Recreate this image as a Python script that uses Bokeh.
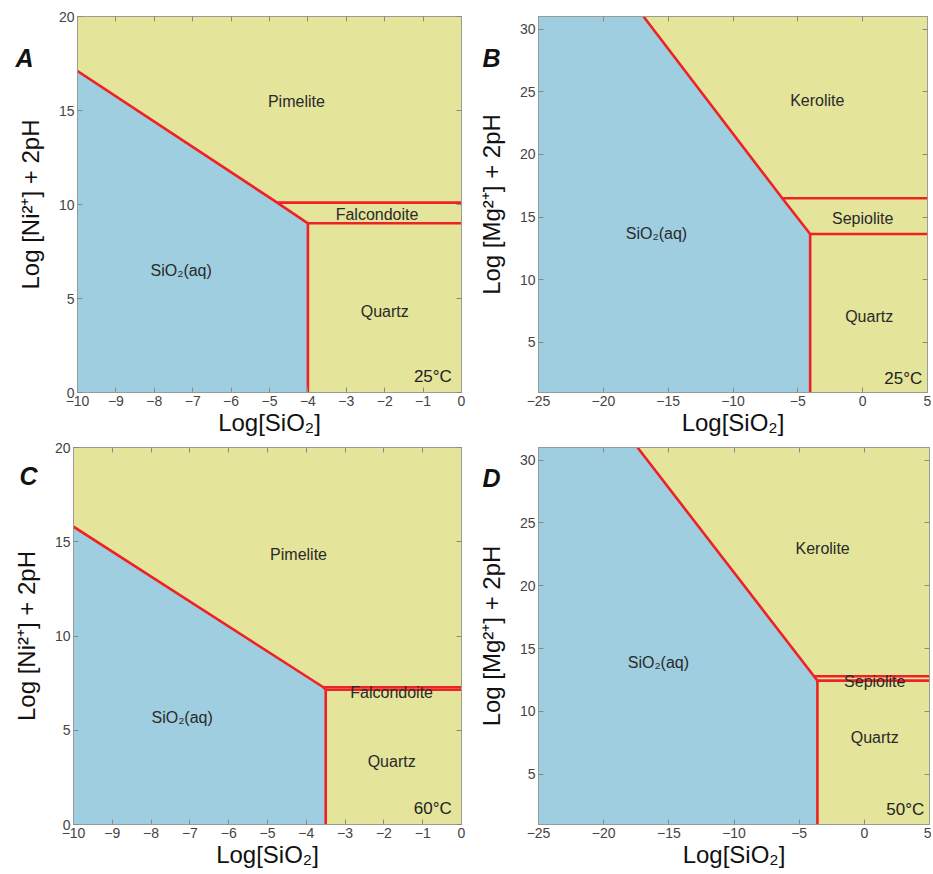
from bokeh.plotting import figure
from bokeh.layouts import column, row
from bokeh.models import (Range1d, FixedTicker, LinearAxis, Label,
                          CustomJSTickFormatter)
from bokeh.embed import file_html
from bokeh.resources import INLINE

BLUE = "#9ecedf"
YELLOW = "#e4e49b"
RED = "#ee2226"
FONT = "Liberation Sans"

# ---------------- data ----------------
# Panel A: Ni system, 25 °C
a_xrange = [-10, 0]
a_yrange = [0, 20]
a_xticks = [-10, -9, -8, -7, -6, -5, -4, -3, -2, -1, 0]
a_yticks = [0, 5, 10, 15, 20]
a_diag_x = [-10, -4.8, -4.0]
a_diag_y = [17.1, 10.1, 9.0]
a_upper_y = 10.1
a_lower_y = 9.0
a_vert_x = -4.0
a_names = ["Pimelite", "Falcondoite", "SiO₂(aq)", "Quartz"]
a_name_x = [-4.3, -2.2, -7.3, -2.0]
a_name_y = [15.5, 9.45, 6.5, 4.3]
a_temp = "25°C"

# Panel B: Mg system, 25 °C
b_xrange = [-25, 5]
b_yrange = [1, 31]
b_xticks = [-25, -20, -15, -10, -5, 0, 5]
b_yticks = [5, 10, 15, 20, 25, 30]
b_diag_x = [-16.9, -6.2, -4.05]
b_diag_y = [31, 16.5, 13.65]
b_upper_y = 16.5
b_lower_y = 13.65
b_vert_x = -4.05
b_names = ["Kerolite", "Sepiolite", "SiO₂(aq)", "Quartz"]
b_name_x = [-3.5, 0.0, -15.9, 0.5]
b_name_y = [24.3, 14.9, 13.7, 7.1]
b_temp = "25°C"

# Panel C: Ni system, 60 °C
c_xrange = [-10, 0]
c_yrange = [0, 20]
c_xticks = [-10, -9, -8, -7, -6, -5, -4, -3, -2, -1, 0]
c_yticks = [0, 5, 10, 15, 20]
c_diag_x = [-10, -3.56, -3.5]
c_diag_y = [15.8, 7.28, 7.15]
c_upper_y = 7.28
c_lower_y = 7.15
c_vert_x = -3.5
c_names = ["Pimelite", "Falcondoite", "SiO₂(aq)", "Quartz"]
c_name_x = [-4.2, -1.8, -7.2, -1.8]
c_name_y = [14.3, 7.0, 5.7, 3.35]
c_temp = "60°C"

# Panel D: Mg system, 50 °C
d_xrange = [-25, 5]
d_yrange = [1, 31]
d_xticks = [-25, -20, -15, -10, -5, 0, 5]
d_yticks = [5, 10, 15, 20, 25, 30]
d_diag_x = [-17.4, -3.86, -3.6]
d_diag_y = [31, 12.8, 12.45]
d_upper_y = 12.8
d_lower_y = 12.45
d_vert_x = -3.6
d_names = ["Kerolite", "Sepiolite", "SiO₂(aq)", "Quartz"]
d_name_x = [-3.2, 0.8, -15.8, 0.8]
d_name_y = [23.0, 12.4, 13.9, 7.9]
d_temp = "50°C"

NI_LABEL = "Log [Ni²⁺] + 2pH"
MG_LABEL = "Log [Mg²⁺] + 2pH"
X_LABEL = "Log[SiO₂]"


def style_axis(ax, ticks, show_labels=True):
    ax.ticker = FixedTicker(ticks=ticks)
    ax.minor_tick_line_color = None
    ax.major_tick_in = 5
    ax.major_tick_out = 0
    ax.major_tick_line_color = "#8a8a8a"
    ax.axis_line_color = "#9a9a9a"
    ax.major_label_text_font = FONT
    ax.axis_label_text_font = FONT
    ax.axis_label_text_font_size = "24px"
    ax.axis_label_text_font_style = "normal"
    ax.axis_label_text_color = "#111111"
    if show_labels:
        ax.major_label_text_color = "#444444"
        ax.major_label_text_font_size = "14px"
        ax.major_label_standoff = 3
    else:
        ax.major_label_text_color = None
        ax.major_label_text_font_size = "1px"
        ax.major_label_standoff = 0


def make_panel(letter, xr, yr, xticks, yticks, dx, dy, uy, ly, vx,
               names, nx, ny, temp, ylabel, width, height,
               bl, br, bt, bb, letter_y, letter_shift, temp_xy):
    p = figure(width=width, height=height, output_backend="svg",
               toolbar_location=None,
               x_range=Range1d(xr[0], xr[1]), y_range=Range1d(yr[0], yr[1]),
               min_border_left=bl, min_border_right=br,
               min_border_top=bt, min_border_bottom=bb)
    p.background_fill_color = YELLOW
    p.border_fill_color = "white"
    p.outline_line_color = "#9a9a9a"
    p.grid.visible = False

    xa = p.xaxis[0]
    ya = p.yaxis[0]
    style_axis(xa, xticks)
    style_axis(ya, yticks)
    xa.axis_label = X_LABEL
    ya.axis_label = ylabel
    xa.axis_label_standoff = 0
    ya.axis_label_standoff = 12

    top = LinearAxis()
    style_axis(top, xticks, show_labels=False)
    p.add_layout(top, "above")
    right = LinearAxis()
    style_axis(right, yticks, show_labels=False)
    p.add_layout(right, "right")

    # panel letter: an outer left axis with a single labelled tick
    let = LinearAxis(ticker=FixedTicker(ticks=[letter_y]),
                     formatter=CustomJSTickFormatter(code="return '%s';" % letter))
    let.axis_line_color = None
    let.major_tick_line_color = None
    let.minor_tick_line_color = None
    let.major_tick_in = 0
    let.major_tick_out = 0
    let.major_label_standoff = letter_shift
    let.major_label_text_font = FONT
    let.major_label_text_font_size = "25px"
    let.major_label_text_font_style = "bold italic"
    let.major_label_text_color = "#111111"
    p.add_layout(let, "left")

    # SiO2(aq) field
    px = [xr[0], xr[0]] + list(dx) + [vx]
    py = [yr[0], dy[0]] + list(dy) + [yr[0]]
    p.patch(px, py, fill_color=BLUE, line_color=None)

    lw = 2.6
    p.line(dx, dy, line_color=RED, line_width=lw)
    p.line([dx[1], xr[1]], [uy, uy], line_color=RED, line_width=lw)
    p.line([vx, xr[1]], [ly, ly], line_color=RED, line_width=lw)
    p.line([vx, vx], [yr[0], ly], line_color=RED, line_width=lw)

    for t, x, y in zip(names, nx, ny):
        p.add_layout(Label(x=x, y=y, text=t, text_align="center",
                           text_baseline="middle", text_font=FONT,
                           text_font_size="16px", text_color="#2a2a2a"))
    p.add_layout(Label(x=temp_xy[0], y=temp_xy[1], text=temp,
                       text_align="right", text_baseline="middle",
                       text_font=FONT, text_font_size="17px",
                       text_color="#222222"))
    return p


pa = make_panel("A", a_xrange, a_yrange, a_xticks, a_yticks, a_diag_x, a_diag_y,
                a_upper_y, a_lower_y, a_vert_x, a_names, a_name_x, a_name_y,
                a_temp, NI_LABEL, 470, 440, 77, 9, 16, 48,
                17.8, -20, (-0.25, 0.85))
pb = make_panel("B", b_xrange, b_yrange, b_xticks, b_yticks, b_diag_x, b_diag_y,
                b_upper_y, b_lower_y, b_vert_x, b_names, b_name_x, b_name_y,
                b_temp, MG_LABEL, 461, 440, 68, 4, 16, 48,
                27.7, -26, (4.6, 2.1))
pc = make_panel("C", c_xrange, c_yrange, c_xticks, c_yticks, c_diag_x, c_diag_y,
                c_upper_y, c_lower_y, c_vert_x, c_names, c_name_x, c_name_y,
                c_temp, NI_LABEL, 470, 434, 73, 9, 7, 48,
                18.5, -28, (-0.25, 0.85))
pd_ = make_panel("D", d_xrange, d_yrange, d_xticks, d_yticks, d_diag_x, d_diag_y,
                 d_upper_y, d_lower_y, d_vert_x, d_names, d_name_x, d_name_y,
                 d_temp, MG_LABEL, 461, 434, 68, 2, 7, 50,
                 28.6, -26, (4.6, 2.2))

layout = column(row(pa, pb), row(pc, pd_))
open("out.html", "w").write(file_html(layout, INLINE))
